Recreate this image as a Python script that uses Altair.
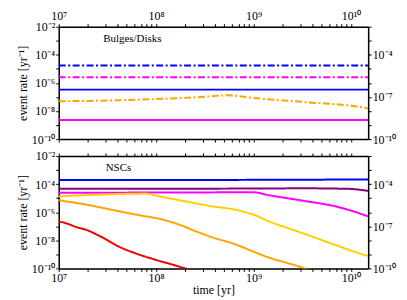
import altair as alt
import pandas as pd

# ---------------- data ----------------
# Top panel: Bulges/Disks
T_FULL = [1e7, 1.5e10]
bd_blue_dashdot = [1.7e-5, 1.7e-5]
bd_magenta_dashdot = [2.5e-6, 2.5e-6]
bd_blue_solid = [3.3e-7, 3.3e-7]
bd_magenta_solid = [2.3e-9, 2.3e-9]
bd_orange_t = [1e7, 4.2e7, 1.35e8, 2.95e8, 5.4e8, 9.8e8, 3.2e9, 1.4e10, 1.5e10]
bd_orange_r = [4.9e-8, 5.8e-8, 7.6e-8, 1.0e-7, 1.3e-7, 8.5e-8, 4.4e-8, 1.66e-8, 1.5e-8]

# Bottom panel: NSCs
nsc_blue_t = [1e7, 1e9, 1.5e10]
nsc_blue_r = [1.95e-4, 2.0e-4, 2.15e-4]
nsc_purple_t = [1e7, 1e8, 1e9, 3.2e9, 9.3e9, 1.5e10]
nsc_purple_r = [4.6e-5, 4.7e-5, 4.8e-5, 5.0e-5, 4.6e-5, 3.3e-5]
nsc_magenta_t = [1e7, 1e8, 1e9, 1.45e9, 2.1e9, 3.2e9, 6.9e9, 1e10, 1.5e10]
nsc_magenta_r = [2.4e-5, 2.5e-5, 2.6e-5, 1.6e-5, 1.05e-5, 6.6e-6, 2.6e-6, 1.3e-6, 5e-7]
nsc_yellow_t = [1e7, 2.8e7, 7.8e7, 1.07e8, 2e8, 3.8e8, 6.5e8, 1e9, 1.45e9, 3.2e9, 6.9e9, 1.4e10, 1.5e10]
nsc_yellow_r = [1.35e-5, 1.8e-5, 2.1e-5, 1.35e-5, 5.9e-6, 2.6e-6, 1.5e-6, 6.6e-7, 2.2e-7, 3.2e-8, 4.7e-9, 8.9e-10, 7.9e-10]
nsc_orange_t = [1e7, 1.9e7, 4.2e7, 7.2e7, 1e8, 1.75e8, 2.6e8, 3.8e8, 6.5e8, 1e9, 1.45e9, 2.1e9, 3.2e9, 3.6e9]
nsc_orange_r = [7.1e-6, 3.5e-6, 1.15e-6, 5.6e-7, 3.8e-7, 1.26e-7, 4.2e-8, 1.6e-8, 5.2e-9, 1.55e-9, 5.8e-10, 2.7e-10, 1.1e-10, 8e-11]
nsc_red_t = [1e7, 1.2e7, 1.5e7, 2e7, 2.5e7, 3e7, 4e7, 6e7, 1e8, 1.5e8, 2e8, 2.3e8]
nsc_red_r = [2.2e-7, 1.6e-7, 9e-8, 5e-8, 2.4e-8, 1.26e-8, 4e-9, 1.26e-9, 4e-10, 1.8e-10, 1e-10, 8e-11]

X_TICKS = [k * 10.0 ** n for n in range(7, 11) for k in range(1, 10) if k * 10.0 ** n <= 1.5e10]
Y_TICKS = [10.0 ** e for e in range(-10, -1)]
LEFT_LABELS = [-10, -8, -6, -4, -2]
RIGHT_LABELS = [-10, -7, -4]
X_LABELS = [7, 8, 9, 10]

SUP = str.maketrans("-0123456789", "⁻⁰¹²³⁴⁵⁶⁷⁸⁹")

def label_expr(exps):
    expr = "''"
    for e in exps:
        s = "10" + str(e).translate(SUP)
        expr = f"abs(log(datum.value)/LN10 - ({e})) < 0.001 ? '{s}' : " + expr
    return expr

SOLID = [1, 0]
DASHDOT = [7, 2.5, 2, 2.5]

SERIES = ["bd_blue_dd", "bd_mag_dd", "bd_blue", "bd_orange_dd", "bd_mag",
          "blue", "purple", "magenta", "yellow", "orange", "red"]
COLORS = ["#0000ff", "#ff00ff", "#0000ff", "#ffa500", "#ff00ff",
          "#0000ff", "#800080", "#ff00ff", "#ffd000", "#ffa500", "#ee0000"]
DASHES = [DASHDOT, DASHDOT, SOLID, DASHDOT, SOLID] + [SOLID] * 6

def frame(name, t, r):
    return pd.DataFrame({"t": t, "r": r, "s": name})

FONT = "Liberation Serif"
x_scale = alt.Scale(type="log", domain=[1e7, 1.5e10], nice=False)
y_scale = alt.Scale(type="log", domain=[1e-10, 1e-2], nice=False)

def make_axis(**kw):
    base = dict(labelFont=FONT, labelFontSize=12, titleFont=FONT, titleFontSize=12,
                titleFontWeight="normal", labelColor="black", titleColor="black",
                tickColor="black", domainColor="black", domainWidth=1.5, tickWidth=1,
                tickSize=3, labelPadding=1, grid=False, labelOverlap=False, labelFlush=False)
    base.update(kw)
    return alt.Axis(**base)

def x_axis(orient, labels, title=None):
    kw = dict(values=X_TICKS, orient=orient, titlePadding=1)
    if labels:
        kw["labelExpr"] = label_expr(X_LABELS)
    else:
        kw["labels"] = False
    kw["title"] = title if title else ""
    return make_axis(**kw)

def panel(df, label, label_x, bottom_labels, top_labels):
    bottom_axis = x_axis("bottom", bottom_labels, "time [yr]" if bottom_labels else None)
    top_axis = x_axis("top", top_labels)
    left_axis = make_axis(values=Y_TICKS, labelExpr=label_expr(LEFT_LABELS),
                          title="event rate [yr⁻¹]", orient="left", titlePadding=2)
    right_axis = make_axis(values=Y_TICKS, labelExpr=label_expr(RIGHT_LABELS),
                           title="", orient="right")
    color = alt.Color("s:N", scale=alt.Scale(domain=SERIES, range=COLORS), legend=None)
    dash = alt.StrokeDash("s:N", scale=alt.Scale(domain=SERIES, range=DASHES), legend=None)
    lines = alt.Chart(df).mark_line(clip=True, strokeWidth=2, interpolate="monotone").encode(
        x=alt.X("t:Q", scale=x_scale, axis=bottom_axis),
        y=alt.Y("r:Q", scale=y_scale, axis=left_axis),
        color=color, strokeDash=dash, detail="s:N",
    )
    ghost = alt.Chart(df).mark_line(clip=True, strokeOpacity=0).encode(
        x=alt.X("t:Q", scale=x_scale, axis=top_axis),
        y=alt.Y("r:Q", scale=y_scale, axis=right_axis),
        detail="s:N",
    )
    text = alt.Chart(pd.DataFrame({"l": [label]})).mark_text(
        font=FONT, fontSize=11, color="black", align="center", baseline="middle"
    ).encode(text="l:N", x=alt.value(label_x), y=alt.value(12))
    return (alt.layer(lines, ghost, text)
            .resolve_scale(x="shared", y="shared")
            .resolve_axis(x="independent", y="independent")
            .properties(width=311, height=113))

top_df = pd.concat([
    frame("bd_blue_dd", T_FULL, bd_blue_dashdot),
    frame("bd_mag_dd", T_FULL, bd_magenta_dashdot),
    frame("bd_blue", T_FULL, bd_blue_solid),
    frame("bd_orange_dd", bd_orange_t, bd_orange_r),
    frame("bd_mag", T_FULL, bd_magenta_solid),
])
top = panel(top_df, "Bulges/Disks", 74, False, True)

bot_df = pd.concat([
    frame("blue", nsc_blue_t, nsc_blue_r),
    frame("purple", nsc_purple_t, nsc_purple_r),
    frame("magenta", nsc_magenta_t, nsc_magenta_r),
    frame("yellow", nsc_yellow_t, nsc_yellow_r),
    frame("orange", nsc_orange_t, nsc_orange_r),
    frame("red", nsc_red_t, nsc_red_r),
])
bottom = panel(bot_df, "NSCs", 60, True, False)

chart = (alt.vconcat(top, bottom, spacing=17, bounds="flush")
         .properties(padding={"top": 0, "left": 7, "right": 2, "bottom": 0})
         .configure_view(stroke="black", strokeWidth=1.5)
         .configure(background="white"))

chart.save("out.html", embed_options={"renderer": "svg", "actions": False})
